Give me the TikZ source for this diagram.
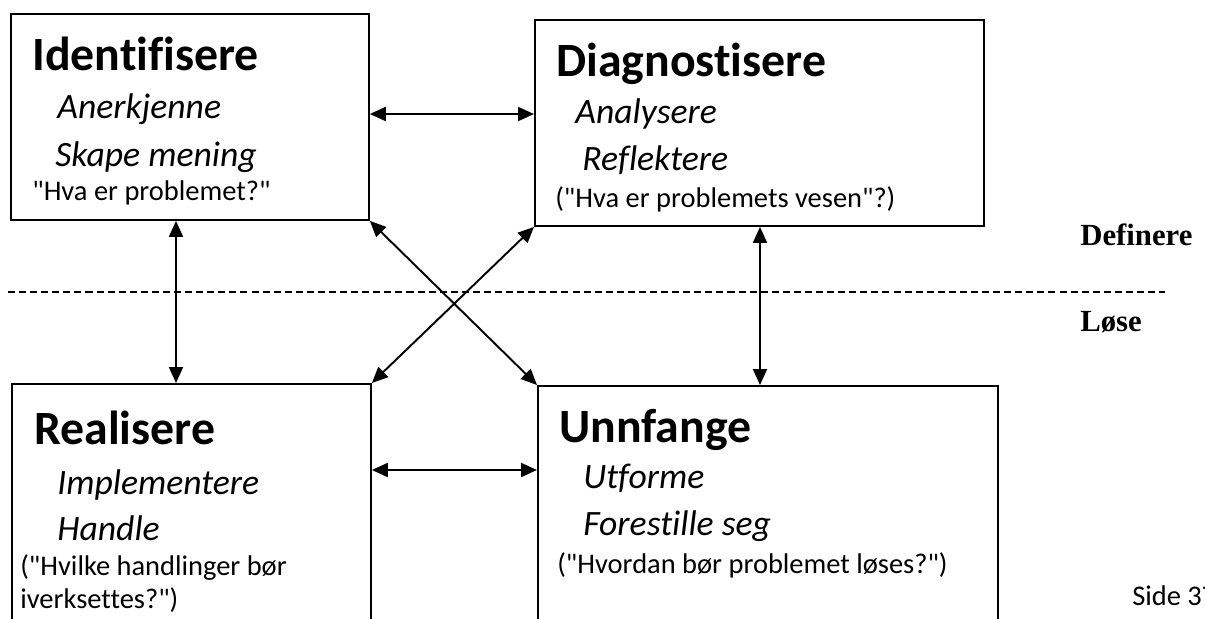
\documentclass[tikz,border=0pt]{standalone}
\usepackage{fontspec}
\setmainfont{Carlito}[Ligatures={CommonOff,TeXOff}]
\newfontfamily\timesfont{Liberation Serif}
\usetikzlibrary{calc,arrows.meta}

\tikzset{
  boks/.style={draw, line width=1.1pt, inner sep=0pt, anchor=north west},
  tittel/.style={anchor=base west, inner sep=0pt, font=\fontsize{27.2}{30}\selectfont\bfseries},
  verb/.style={anchor=base west, inner sep=0pt, font=\fontsize{20.3}{24}\selectfont\itshape},
  spm/.style={anchor=base west, inner sep=0pt, font=\fontsize{16.2}{19}\selectfont},
  fase/.style={anchor=base west, inner sep=0pt, font=\timesfont\fontsize{17.5}{20}\selectfont\bfseries},
  pil/.style={line width=1.1pt, {Triangle[length=3.2mm,width=2.8mm]}-{Triangle[length=3.2mm,width=2.8mm]}},
  skille/.style={line width=0.7pt, dash pattern=on 4pt off 2.3pt}
}

\begin{document}
\begin{tikzpicture}[x=0.02cm, y=-0.02cm]
\useasboundingbox (0,0) rectangle (1205,619);
\clip (0,0) rectangle (1205,619);

% boksene
\node[boks, minimum width=7.16cm, minimum height=4.12cm] (ident) at (10,13) {};
\node[boks, minimum width=8.98cm, minimum height=4.12cm] (diag) at (534,19) {};
\node[boks, minimum width=7.18cm, minimum height=5.4cm] (real) at (11,383) {};
\node[boks, minimum width=9.2cm, minimum height=5.4cm] (unnf) at (537,385) {};

% tekst i boksene
\node[tittel] (identT) at (32,70) {Identifisere};
\node[verb] (identA) at (57,118) {Anerkjenne};
\node[verb] (identB) at (55,166) {Skape mening};
\node[spm] (identQ) at (32,200) {"Hva er problemet?"};

\node[tittel] (diagT) at (556,76) {Diagnostisere};
\node[verb] (diagA) at (575,123) {Analysere};
\node[verb] (diagB) at (582,170) {Reflektere};
\node[spm] (diagQ) at (555,207) {("Hva er problemets vesen"?)};

\node[tittel] (realT) at (34,444) {Realisere};
\node[verb] (realA) at (57,494) {Implementere};
\node[verb] (realB) at (57,540) {Handle};
\node[spm] (realQ) at (20,575) {("Hvilke handlinger bør};
\node[spm] (realQb) at (20,608) {iverksettes?")};

\node[tittel] (unnfT) at (559,442) {Unnfange};
\node[verb] (unnfA) at (583,488) {Utforme};
\node[verb] (unnfB) at (583,535) {Forestille seg};
\node[spm] (unnfQ) at (557,573) {("Hvordan bør problemet løses?")};

% skillelinje
\coordinate (skilleV) at (8,292);
\coordinate (skilleH) at (1165,292);
\draw[skille] (skilleV) -- (skilleH);
\node[fase] (definere) at (1080,245) {Definere};
\node[fase] (lose) at (1080,331) {Løse};
\node[spm] (side) at (1132,605) {Side 37};

% pilene
\draw[pil] ($(ident.north east)+(0,101)$) -- ($(diag.north west)+(0,95)$);
\draw[pil] ($(ident.south west)+(166,0)$) -- ($(real.north west)+(165,0)$);
\draw[pil] ($(diag.south west)+(226,0)$) -- ($(unnf.north west)+(223,0)$);
\draw[pil] (ident.south east) -- (unnf.north west);
\draw[pil] (diag.south west) -- (real.north east);
\draw[pil] ($(real.north east)+(0,87)$) -- ($(unnf.north west)+(0,85)$);
\end{tikzpicture}
\end{document}
